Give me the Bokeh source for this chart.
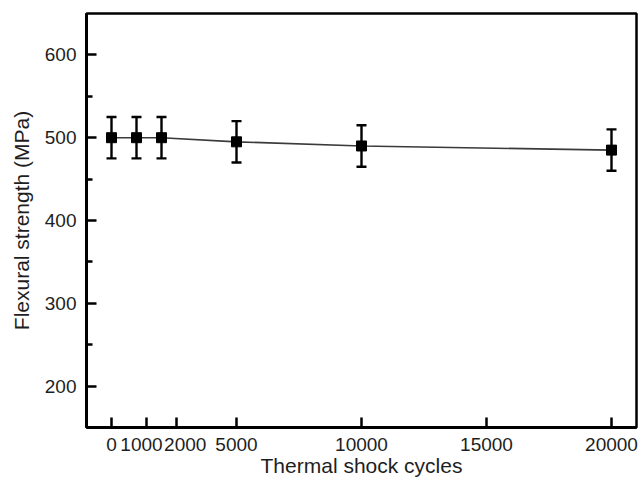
from bokeh.plotting import figure
from bokeh.models import FixedTicker, LinearAxis, Range1d, Whisker, TeeHead, ColumnDataSource
from bokeh.embed import file_html
from bokeh.resources import INLINE

# ---- data ----
cycles = [0, 1000, 2000, 5000, 10000, 20000]
strength = [500, 500, 500, 495, 490, 485]
error = [25, 25, 25, 25, 25, 25]
x_tick_labels = ["0", "1000", "2000", "5000", "10000", "15000", "20000"]
y_ticks = [200, 300, 400, 500, 600]

# tick-mark and label placement as drawn in the original figure
x_tick_marks = [0, 1400, 2600, 5000, 10000, 15000, 20000]
x_label_pos = [0, 1200, 2950, 5000, 10000, 15000, 20000]

FONT = "Liberation Sans"
TXT = "#1e1e1e"

src = ColumnDataSource(dict(
    x=cycles, y=strength,
    upper=[v + e for v, e in zip(strength, error)],
    lower=[v - e for v, e in zip(strength, error)],
))

p = figure(width=639, height=485, x_range=Range1d(-1000, 21000), y_range=Range1d(150, 650),
           output_backend="svg", toolbar_location=None,
           min_border_left=86, min_border_right=3, min_border_top=13, min_border_bottom=58)
p.grid.visible = False
p.outline_line_color = "black"
p.outline_line_width = 2.5
p.outline_line_alpha = 1.0
p.background_fill_color = "white"
p.border_fill_color = "white"

# y axis
yax = p.yaxis[0]
minor = [(a + b) / 2 for a, b in zip(y_ticks[:-1], y_ticks[1:])]
yax.ticker = FixedTicker(ticks=y_ticks, minor_ticks=minor)
yax.axis_label = "Flexural strength (MPa)"
yax.axis_label_text_font = FONT
yax.axis_label_text_font_size = "21px"
yax.axis_label_text_font_style = "normal"
yax.axis_label_text_color = TXT
yax.axis_label_standoff = 9
yax.major_label_text_font = FONT
yax.major_label_text_font_size = "19px"
yax.major_label_text_color = TXT
yax.major_label_standoff = 10
yax.axis_line_width = 3
yax.axis_line_color = "black"
yax.major_tick_in = 10
yax.major_tick_out = 0
yax.major_tick_line_width = 2.5
yax.major_tick_line_color = "black"
yax.minor_tick_in = 6
yax.minor_tick_out = 0
yax.minor_tick_line_width = 2.5
yax.minor_tick_line_color = "black"

# x axis: tick marks only (its labels are not drawn)
xax = p.xaxis[0]
xax.ticker = FixedTicker(ticks=x_tick_marks, minor_ticks=[])
xax.major_label_text_font_size = "1px"
xax.major_label_text_color = None
xax.major_label_standoff = 0
xax.axis_line_width = 3
xax.axis_line_color = "black"
xax.major_tick_in = 10
xax.major_tick_out = 0
xax.major_tick_line_width = 2.5
xax.major_tick_line_color = "black"

# x axis: labels
lab = LinearAxis(ticker=FixedTicker(ticks=x_label_pos, minor_ticks=[]),
                 major_label_overrides={pos: t for pos, t in zip(x_label_pos, x_tick_labels)})
lab.axis_line_color = None
lab.major_tick_line_color = None
lab.major_tick_in = 0
lab.major_tick_out = 0
lab.minor_tick_line_color = None
lab.major_label_text_font = FONT
lab.major_label_text_font_size = "19px"
lab.major_label_text_color = TXT
lab.major_label_standoff = 10
lab.axis_label = "Thermal shock cycles"
lab.axis_label_text_font = FONT
lab.axis_label_text_font_size = "21px"
lab.axis_label_text_font_style = "normal"
lab.axis_label_text_color = TXT
lab.axis_label_standoff = 0
p.add_layout(lab, "below")

# data
p.line("x", "y", source=src, line_color="#3a3a3a", line_width=1.6)
w = Whisker(source=src, base="x", upper="upper", lower="lower",
            line_color="black", line_width=2.4,
            upper_head=TeeHead(size=10, line_width=2.4, line_color="black"),
            lower_head=TeeHead(size=10, line_width=2.4, line_color="black"))
p.add_layout(w)
p.scatter("x", "y", source=src, marker="square", size=10, fill_color="black", line_color="black")

open("out.html", "w").write(file_html(p, INLINE))
